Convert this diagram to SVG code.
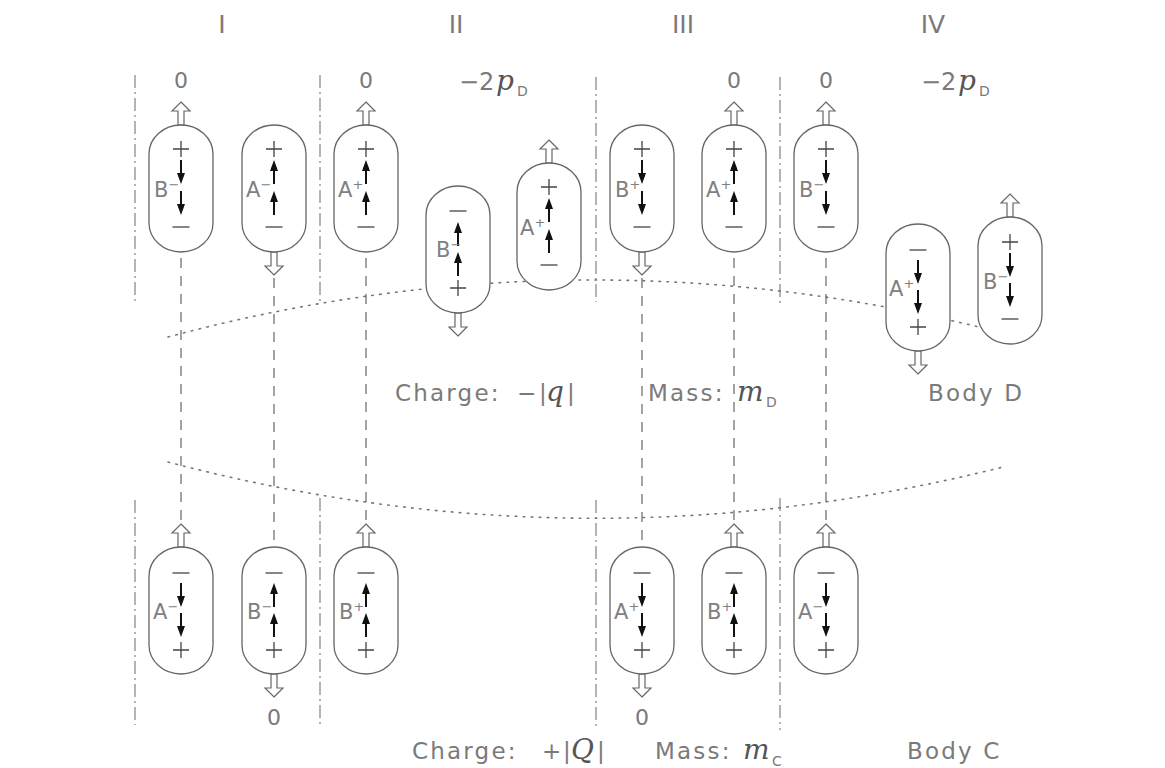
<svg xmlns="http://www.w3.org/2000/svg" xmlns:xlink="http://www.w3.org/1999/xlink" width="1165" height="768" viewBox="0 0 1165 768">
<style>
  .cap{fill:#fff;stroke:#666;stroke-width:1.3}
  .sign{fill:none;stroke:#444;stroke-width:1.3}
  .shaft{fill:none;stroke:#111;stroke-width:2}
  .head{fill:#111;stroke:none}
  .hollow{fill:#fff;stroke:#666;stroke-width:1.2;stroke-linejoin:miter}
  .lab{font-family:"DejaVu Sans","Liberation Sans",sans-serif;font-size:21px;fill:#808080}
  .sup{font-size:13px}
  .txt{font-family:"DejaVu Sans","Liberation Sans",sans-serif;fill:#7a7a7a}
  .big{font-size:23px;letter-spacing:2.2px}
  .hdr{font-size:25px;text-anchor:middle}
  .zero{font-size:22px;text-anchor:middle}
  .math{font-family:"DejaVu Serif","Liberation Serif",serif;font-style:italic;font-size:28px;fill:#555}
  .sub{font-family:"DejaVu Sans","Liberation Sans",sans-serif;font-size:14px;fill:#7a7a7a}
  .sep{fill:none;stroke:#777;stroke-width:1.1;stroke-dasharray:13 4 2 4}
  .conn{fill:none;stroke:#666;stroke-width:1.2;stroke-dasharray:10 8}
  .dot{fill:none;stroke:#777;stroke-width:1.6;stroke-dasharray:1.6 6.4;stroke-linecap:round}
</style>
<defs>
  <rect id="shape" x="-32" y="0" width="64" height="127" rx="32" ry="29"/>
  <path id="plus" d="M-8,0H8M0,-8V8"/>
  <path id="minus" d="M-8.5,0H8.5"/>
  <g id="ad"><path class="shaft" d="M0,0V15"/><path class="head" d="M-4,13L4,13L0,24Z"/></g>
  <g id="au"><path class="shaft" d="M0,24V9"/><path class="head" d="M-4,11L4,11L0,0Z"/></g>
  <path id="hu" d="M0,0L9,9L3,9L3,23L-3,23L-3,9L-9,9Z"/>
  <path id="hd" d="M0,0L9,-9L3,-9L3,-23L-3,-23L-3,-9L-9,-9Z"/>
</defs>

<g id="separators">
  <path class="sep" d="M135,75V302M135,500V725M320,75V303M320,498V725M596,77V302M596,500V730M780,77V303M780,498V730"/>
</g>

<g id="body-outlines">
  <path class="dot" d="M168,337Q585,225 1003,333"/>
  <path class="dot" d="M168,462Q585,572 1003,467"/>
</g>

<g id="connectors">
  <path class="conn" d="M181,258V523"/>
  <path class="conn" d="M274,278V547"/>
  <path class="conn" d="M366,258V523"/>
  <path class="conn" d="M642,278V549"/>
  <path class="conn" d="M734,258V523"/>
  <path class="conn" d="M826,258V523"/>
</g>

<g id="headers">
  <text class="txt hdr" x="222" y="33">I</text>
  <text class="txt hdr" x="456" y="33">II</text>
  <text class="txt hdr" x="683" y="33">III</text>
  <text class="txt hdr" x="933" y="33">IV</text>
</g>

<g id="momenta">
  <text class="txt zero" x="181" y="88">0</text>
  <text class="txt zero" x="366" y="88">0</text>
  <text class="txt zero" x="734" y="88">0</text>
  <text class="txt zero" x="826" y="88">0</text>
  <text class="txt zero" x="274" y="725">0</text>
  <text class="txt zero" x="642" y="725">0</text>
  <text class="txt" font-size="24" x="459" y="90">−2</text>
  <text class="math" x="496" y="90">p</text>
  <text class="sub" x="517" y="96">D</text>
  <text class="txt" font-size="24" x="921" y="90">−2</text>
  <text class="math" x="958" y="90">p</text>
  <text class="sub" x="979" y="96">D</text>
</g>

<!-- top row -->
<g id="n1" transform="translate(181,125)">
  <use href="#hu" class="hollow" y="-23"/>
  <use href="#shape" class="cap"/>
  <use href="#plus" class="sign" y="24"/><use href="#minus" class="sign" y="102"/>
  <use href="#ad" y="35"/><use href="#ad" y="66"/>
  <text class="lab" x="-27" y="72">B<tspan class="sup" dy="-8">−</tspan></text>
</g>
<g id="n2" transform="translate(274,125)">
  <use href="#hd" class="hollow" y="150"/>
  <use href="#shape" class="cap"/>
  <use href="#plus" class="sign" y="24"/><use href="#minus" class="sign" y="102"/>
  <use href="#au" y="35"/><use href="#au" y="66"/>
  <text class="lab" x="-28" y="72">A<tspan class="sup" dy="-8">−</tspan></text>
</g>
<g id="n3" transform="translate(366,125)">
  <use href="#hu" class="hollow" y="-23"/>
  <use href="#shape" class="cap"/>
  <use href="#plus" class="sign" y="24"/><use href="#minus" class="sign" y="102"/>
  <use href="#au" y="35"/><use href="#au" y="66"/>
  <text class="lab" x="-28" y="72">A<tspan class="sup" dy="-8">+</tspan></text>
</g>
<g id="n4" transform="translate(458,186)">
  <use href="#hd" class="hollow" y="150"/>
  <use href="#shape" class="cap"/>
  <use href="#minus" class="sign" y="25"/><use href="#plus" class="sign" y="102"/>
  <use href="#au" y="36"/><use href="#au" y="66"/>
  <text class="lab" x="-22" y="71">B<tspan class="sup" dy="-8">−</tspan></text>
</g>
<g id="n5" transform="translate(549,163)">
  <use href="#hu" class="hollow" y="-23"/>
  <use href="#shape" class="cap"/>
  <use href="#plus" class="sign" y="24"/><use href="#minus" class="sign" y="102"/>
  <use href="#au" y="35"/><use href="#au" y="66"/>
  <text class="lab" x="-29" y="72">A<tspan class="sup" dy="-8">+</tspan></text>
</g>
<g id="n6" transform="translate(642,125)">
  <use href="#hd" class="hollow" y="150"/>
  <use href="#shape" class="cap"/>
  <use href="#plus" class="sign" y="24"/><use href="#minus" class="sign" y="102"/>
  <use href="#ad" y="35"/><use href="#ad" y="66"/>
  <text class="lab" x="-27" y="72">B<tspan class="sup" dy="-8">+</tspan></text>
</g>
<g id="n7" transform="translate(734,125)">
  <use href="#hu" class="hollow" y="-23"/>
  <use href="#shape" class="cap"/>
  <use href="#plus" class="sign" y="24"/><use href="#minus" class="sign" y="102"/>
  <use href="#au" y="35"/><use href="#au" y="66"/>
  <text class="lab" x="-28" y="72">A<tspan class="sup" dy="-8">+</tspan></text>
</g>
<g id="n8" transform="translate(826,125)">
  <use href="#hu" class="hollow" y="-23"/>
  <use href="#shape" class="cap"/>
  <use href="#plus" class="sign" y="24"/><use href="#minus" class="sign" y="102"/>
  <use href="#ad" y="35"/><use href="#ad" y="66"/>
  <text class="lab" x="-27" y="72">B<tspan class="sup" dy="-8">−</tspan></text>
</g>
<g id="n9" transform="translate(918,224)">
  <use href="#hd" class="hollow" y="150"/>
  <use href="#shape" class="cap"/>
  <use href="#minus" class="sign" y="26"/><use href="#plus" class="sign" y="103"/>
  <use href="#ad" y="36"/><use href="#ad" y="66"/>
  <text class="lab" x="-29" y="72">A<tspan class="sup" dy="-8">+</tspan></text>
</g>
<g id="n10" transform="translate(1010,217)">
  <use href="#hu" class="hollow" y="-23"/>
  <use href="#shape" class="cap"/>
  <use href="#plus" class="sign" y="25"/><use href="#minus" class="sign" y="102"/>
  <use href="#ad" y="36"/><use href="#ad" y="66"/>
  <text class="lab" x="-27" y="72">B<tspan class="sup" dy="-8">−</tspan></text>
</g>

<!-- bottom row -->
<g id="n11" transform="translate(181,547)">
  <use href="#hu" class="hollow" y="-23"/>
  <use href="#shape" class="cap"/>
  <use href="#minus" class="sign" y="26"/><use href="#plus" class="sign" y="103"/>
  <use href="#ad" y="36"/><use href="#ad" y="66"/>
  <text class="lab" x="-28" y="72">A<tspan class="sup" dy="-8">−</tspan></text>
</g>
<g id="n12" transform="translate(274,547)">
  <use href="#hd" class="hollow" y="150"/>
  <use href="#shape" class="cap"/>
  <use href="#minus" class="sign" y="26"/><use href="#plus" class="sign" y="103"/>
  <use href="#au" y="36"/><use href="#au" y="66"/>
  <text class="lab" x="-27" y="72">B<tspan class="sup" dy="-8">−</tspan></text>
</g>
<g id="n13" transform="translate(366,547)">
  <use href="#hu" class="hollow" y="-23"/>
  <use href="#shape" class="cap"/>
  <use href="#minus" class="sign" y="26"/><use href="#plus" class="sign" y="103"/>
  <use href="#au" y="36"/><use href="#au" y="66"/>
  <text class="lab" x="-27" y="72">B<tspan class="sup" dy="-8">+</tspan></text>
</g>
<g id="n14" transform="translate(642,547)">
  <use href="#hd" class="hollow" y="150"/>
  <use href="#shape" class="cap"/>
  <use href="#minus" class="sign" y="26"/><use href="#plus" class="sign" y="103"/>
  <use href="#ad" y="36"/><use href="#ad" y="66"/>
  <text class="lab" x="-28" y="72">A<tspan class="sup" dy="-8">+</tspan></text>
</g>
<g id="n15" transform="translate(734,547)">
  <use href="#hu" class="hollow" y="-23"/>
  <use href="#shape" class="cap"/>
  <use href="#minus" class="sign" y="26"/><use href="#plus" class="sign" y="103"/>
  <use href="#au" y="36"/><use href="#au" y="66"/>
  <text class="lab" x="-27" y="72">B<tspan class="sup" dy="-8">+</tspan></text>
</g>
<g id="n16" transform="translate(826,547)">
  <use href="#hu" class="hollow" y="-23"/>
  <use href="#shape" class="cap"/>
  <use href="#minus" class="sign" y="26"/><use href="#plus" class="sign" y="103"/>
  <use href="#ad" y="36"/><use href="#ad" y="66"/>
  <text class="lab" x="-28" y="72">A<tspan class="sup" dy="-8">−</tspan></text>
</g>

<g id="body-D-label">
  <text class="txt big" x="395" y="401">Charge:</text>
  <text class="txt" font-size="23" x="517" y="401">−</text>
  <text class="txt" font-size="23" x="539" y="401">|</text>
  <text class="math" x="546" y="401">q</text>
  <text class="txt" font-size="23" x="567" y="401">|</text>
  <text class="txt big" x="648" y="401">Mass:</text>
  <text class="math" x="737" y="401">m</text>
  <text class="sub" x="766" y="407">D</text>
  <text class="txt big" x="928" y="401">Body D</text>
</g>

<g id="body-C-label">
  <text class="txt big" x="412" y="759">Charge:</text>
  <text class="txt" font-size="23" x="542" y="759">+</text>
  <text class="txt" font-size="23" x="563" y="759">|</text>
  <text class="math" x="571" y="759">Q</text>
  <text class="txt" font-size="23" x="597" y="759">|</text>
  <text class="txt big" x="655" y="759">Mass:</text>
  <text class="math" x="743" y="759">m</text>
  <text class="sub" x="772" y="766">C</text>
  <text class="txt big" x="907" y="759">Body C</text>
</g>
</svg>
